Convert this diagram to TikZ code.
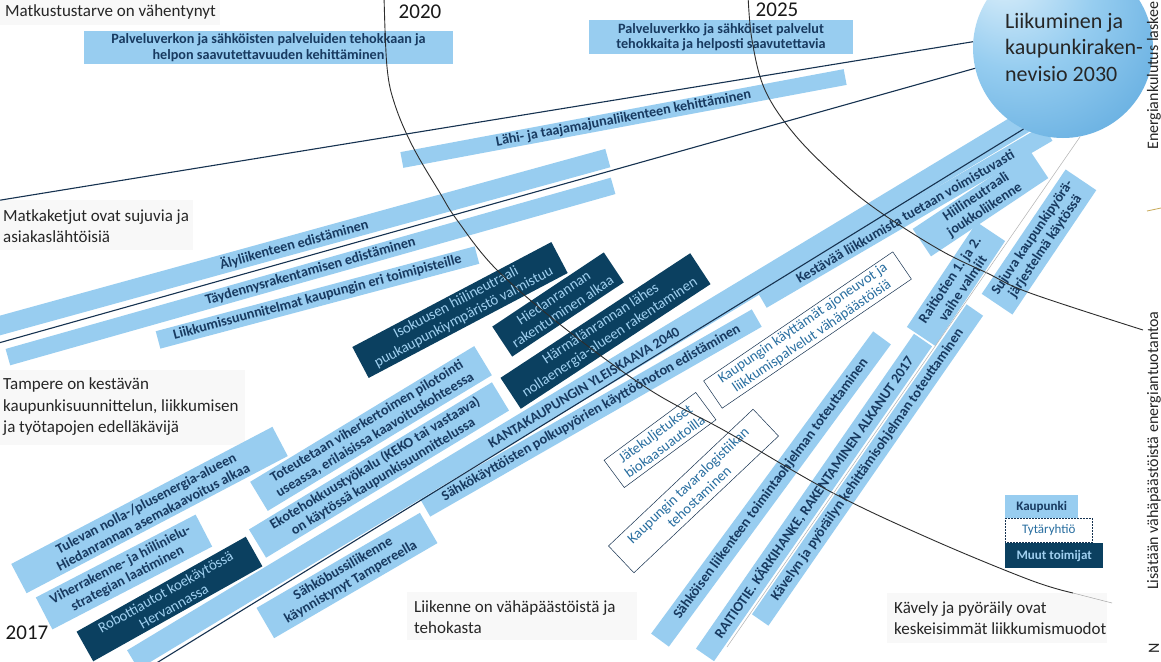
\documentclass[tikz,border=0pt]{standalone}
\usepackage{fontspec}
\setmainfont{Carlito}
\definecolor{barblue}{RGB}{152,205,240}
\definecolor{navy}{RGB}{24,58,96}
\definecolor{darkbox}{RGB}{11,64,96}
\definecolor{dboxtext}{RGB}{160,208,240}
\definecolor{tealtext}{RGB}{40,110,160}
\definecolor{lineblue}{RGB}{22,50,80}
\definecolor{arcgray}{RGB}{45,45,45}
\definecolor{orbA}{RGB}{224,241,251}
\definecolor{orbB}{RGB}{150,205,240}
\definecolor{orbC}{RGB}{68,153,214}
\definecolor{labelbg}{RGB}{248,248,248}
\definecolor{goldline}{RGB}{200,170,90}
\pgfdeclareradialshading{orb}{\pgfpoint{-18bp}{22bp}}{color(0bp)=(orbA); color(22bp)=(orbB); color(58bp)=(orbC); color(85bp)=(orbC)}
\begin{document}
\begin{tikzpicture}[x=1pt,y=-1pt,
  lbar/.style={fill=barblue, text=navy, font=\bfseries\fontsize{14.2}{15.5}\selectfont, inner sep=0pt, align=center},
  dbox/.style={fill=darkbox, text=dboxtext, font=\fontsize{14.8}{16.5}\selectfont, inner sep=0pt, align=center},
  obox/.style={draw=lineblue, line width=0.5pt, fill=white, text=tealtext, font=\fontsize{14.5}{16}\selectfont, inner sep=0pt, align=center},
  plain/.style={text=black!85, font=\fontsize{17}{21.5}\selectfont, align=left, anchor=west, inner sep=0pt},
  labelbox/.style={fill=labelbg},
  yearlbl/.style={font=\fontsize{21}{21}\selectfont, text=black!90},
  sidetxt/.style={font=\fontsize{16}{18}\selectfont, text=black!85, rotate=90, anchor=west, inner sep=0pt},
  tline/.style={draw=lineblue, line width=1.1pt},
  arcline/.style={draw=arcgray, line width=0.9pt},
  faint/.style={draw=gray!70, line width=0.5pt}
]
\useasboundingbox (0,0) rectangle (1161,661);
\clip (0,0) rectangle (1161,661);
\fill[white] (0,0) rectangle (1161,661);

% plain statements with their faint backgrounds
\fill[labelbox] (0,0) rectangle (220,25);
\fill[labelbox] (0,200) rectangle (193,250);
\fill[labelbox] (0,370) rectangle (245,445);
\fill[labelbox] (407,592) rectangle (637,640);
\fill[labelbox] (887,593) rectangle (1107,643);
\node[plain] (t1) at (5,12) {Matkustustarve on vähentynyt};
\node[plain] (t2) at (3,226) {Matkaketjut ovat sujuvia ja\\asiakaslähtöisiä};
\node[plain] (t3) at (3,407) {Tampere on kestävän\\kaupunkisuunnittelun, liikkumisen\\ja työtapojen edelläkävijä};
\node[plain] (t4) at (414,617) {Liikenne on vähäpäästöistä ja\\tehokasta};
\node[plain] (t5) at (894,618) {Kävely ja pyöräily ovat\\keskeisimmät liikkumismuodot};

% horizontal boxes
\node[lbar, minimum width=369pt, minimum height=33pt] (pv1) at (268.5,47.5) {Palveluverkon ja sähköisten palveluiden tehokkaan ja\\helpon saavutettavuuden kehittäminen};
\node[lbar, minimum width=264pt, minimum height=34pt] (pv2) at (721,37) {Palveluverkko ja sähköiset palvelut\\tehokkaita ja helposti saavutettavia};

% long bars
\node[lbar, minimum width=451pt, minimum height=16pt, rotate=10.6] (lahi) at (623.5,118.5) {Lähi- ja taajamajunaliikenteen kehittäminen};
\node[lbar, minimum width=651pt, minimum height=19pt, rotate=15.4] (aly) at (294,244.5) {Älyliikenteen edistäminen};
\node[lbar, minimum width=629pt, minimum height=17pt, rotate=15.8] (tayd) at (310.5,271.5) {Täydennysrakentamisen edistäminen};
\node[lbar, minimum width=330pt, minimum height=18pt, rotate=14.9] (liik) at (317.5,297.5) {Liikkumissuunnitelmat kaupungin eri toimipisteille};
\node[lbar, minimum width=1054pt, minimum height=22pt, rotate=31.1] (kanta) at (584,387.5) {KANTAKAUPUNGIN YLEISKAAVA 2040};
\node[lbar, minimum width=331pt, minimum height=18pt, rotate=30.3] (kest) at (905,216.5) {Kestävää liikkumista tuetaan voimistuvasti};
\node[lbar, minimum width=382pt, minimum height=20pt, rotate=29.8] (sahkop) at (591,413) {Sähkökäyttöisten polkupyörien käyttöönoton edistäminen};
\node[lbar, minimum width=375pt, minimum height=22pt, rotate=53.7] (sahkois) at (771,489) {Sähköisen liikenteen toimintaohjelman toteuttaminen};
\node[lbar, minimum width=383pt, minimum height=22pt, rotate=55.3] (raitiotie) at (814,497.5) {RAITIOTIE. KÄRKIHANKE, RAKENTAMINEN ALKANUT 2017};
\node[lbar, minimum width=377pt, minimum height=20pt, rotate=55.3] (kavelyn) at (867.5,465) {Kävelyn ja pyöräilyn kehittämisohjelman toteuttaminen};

% light blue boxes
\node[lbar, minimum width=141pt, minimum height=33pt, rotate=33.7] (hiili) at (980.5,203.5) {Hiilineutraali\\joukkoliikenne};
\node[lbar, minimum width=126pt, minimum height=34pt, rotate=56.3] (raitio12) at (956,284) {Raitiotien 1. ja 2.\\vaihe valmiit};
\node[lbar, minimum width=150pt, minimum height=37pt, rotate=56] (sujuva) at (1039,242) {Sujuva kaupunkipyörä-\\järjestelmä käytössä};
\node[lbar, minimum width=295pt, minimum height=33pt, rotate=27.7] (tulevan) at (149.5,510) {Tulevan nolla-/plusenergia-alueen\\Hiedanrannan asemakaavoitus alkaa};
\node[lbar, minimum width=180pt, minimum height=36pt, rotate=27.4] (viher) at (124,572) {Viherrakenne- ja hiilinielu-\\strategian laatiminen};
\node[lbar, minimum width=262pt, minimum height=34pt, rotate=31.2] (toteut) at (371,428.5) {Toteutetaan viherkertoimen pilotointi\\useassa, erilaisissa kaavoituskohteessa};
\node[lbar, minimum width=284pt, minimum height=33pt, rotate=31.2] (eko) at (379,470) {Ekotehokkuustyökalu (KEKO tai vastaava)\\on käytössä kaupunkisuunnittelussa};
\node[lbar, minimum width=189pt, minimum height=35pt, rotate=30.2] (sbussi) at (347,575.5) {Sähköbussiliikenne\\käynnistynyt Tampereella};

% dark boxes
\node[dbox, minimum width=194pt, minimum height=34pt, rotate=29.3] (robotti) at (169.5,599) {Robottiautot koekäytössä\\Hervannassa};
\node[dbox, minimum width=225pt, minimum height=35pt, rotate=27.8] (isok) at (460,310) {Isokuusen hiilineutraali\\puukaupunkiympäristö valmistuu};
\node[dbox, minimum width=134pt, minimum height=36pt, rotate=33.6] (hied) at (558,304.5) {Hiedanrannan\\rakentuminen alkaa};
\node[dbox, minimum width=227pt, minimum height=37pt, rotate=33.3] (harm) at (605.5,331) {Härmälänrannan lähes\\nollaenergia-alueen rakentaminen};

% outlined boxes
\node[obox, minimum width=229pt, minimum height=33pt, rotate=34.3] (kaytt) at (807.5,330) {Kaupungin käyttämät ajoneuvot ja\\liikkumispalvelut vähäpäästöisiä};
\node[obox, minimum width=114pt, minimum height=34pt, rotate=36.5] (jate) at (660,440) {Jätekuljetukset\\biokaasuautoilla};
\node[obox, minimum width=199pt, minimum height=37pt, rotate=43.4] (tava) at (693.5,491) {Kaupungin tavaralogistiikan\\tehostaminen};

% year arcs
\draw[arcline] plot[smooth, tension=0.6] coordinates {(384,-5) (387,67) (395,105) (413,147) (440,193) (457,220) (497,270) (567,330) (650,390) (727,432) (833,493) (933,540) (1030,580) (1073,593)};
\draw[faint] (1073,593) -- (1112,603);
\draw[arcline] plot[smooth, tension=0.6] coordinates {(748,-5) (752,40) (765,90) (795,135) (840,180) (880,212) (940,250) (987,273) (1030,293) (1143,330)};

% circle
\node[circle, minimum size=180pt, inner sep=0pt, shading=orb] (vision) at (1063,48) {};

% timeline lines from the vision circle
\coordinate (l1s) at (-5,201);
\coordinate (l2s) at (-5,344);
\coordinate (l3s) at (150,667);
\coordinate (l4s) at (727,647);
\draw[tline] (l1s) -- (vision.176.8);
\draw[tline] (l2s) -- (vision.193.7);
\draw[tline] (l3s) -- (vision.244.7);
\draw[faint, gray!60] (l4s) -- (vision.281);
\draw[goldline, line width=0.8pt] (1147,211) -- (1161,208);

\node[font=\fontsize{22}{26.5}\selectfont, text=black!85, align=left, inner sep=0pt] (visiontext) at (1074,47) {Liikuminen ja\\kaupunkiraken-\\nevisio 2030};

% years
\node[yearlbl] (y2020) at (420,12) {2020};
\node[yearlbl] (y2025) at (777,10) {2025};
\node[yearlbl] (y2017) at (27,633) {2017};

% side texts (cut at the right edge)
\node[sidetxt] (side1) at (1154,150) {Energiankulutus laskee};
\node[sidetxt] (side2) at (1154,590) {Lisätään vähäpäästöistä energiantuotantoa};
\node[sidetxt] (side3) at (1154,654) {N};

% legend
\node[lbar, font=\bfseries\fontsize{13}{14}\selectfont, minimum width=73pt, minimum height=23pt, anchor=north west] (legk) at (1005,495) {Kaupunki};
\node[obox, densely dotted, font=\fontsize{13}{14}\selectfont, minimum width=87pt, minimum height=24pt, anchor=north west] (legt) at (1005,518) {Tytäryhtiö};
\node[dbox, font=\bfseries\fontsize{13}{14}\selectfont, minimum width=98pt, minimum height=25pt, anchor=north west] (legm) at (1005,543) {Muut toimijat};
\end{tikzpicture}
\end{document}
